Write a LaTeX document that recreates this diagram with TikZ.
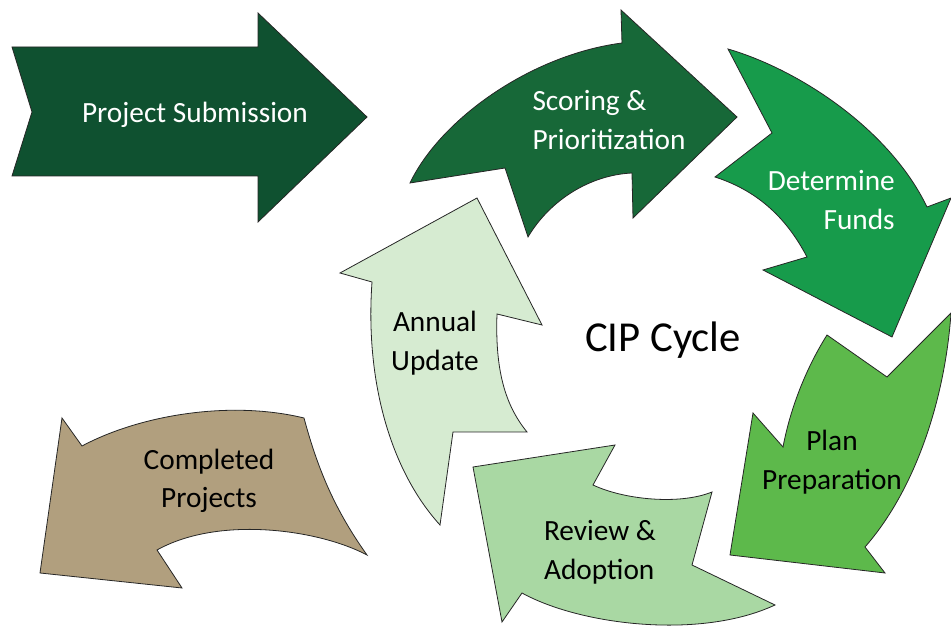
\documentclass[tikz,border=0pt]{standalone}
\usepackage{fontspec}
\setmainfont{Carlito}
\usepackage{tikz}
\usetikzlibrary{positioning}
\definecolor{submgreen}{HTML}{0F5130}
\definecolor{scoregreen}{HTML}{176838}
\definecolor{fundsgreen}{HTML}{179B4B}
\definecolor{plangreen}{HTML}{5DB94B}
\definecolor{reviewgreen}{HTML}{A9D8A3}
\definecolor{annualgreen}{HTML}{D6EBD1}
\definecolor{donetan}{HTML}{B19F7E}
\tikzstyle{block} = [draw=black!85, line width=0.6pt, line join=miter]
\tikzstyle{whitetext} = [text=white, inner sep=0pt, align=center, font=\fontsize{22}{29}\selectfont]
\tikzstyle{blacktext} = [text=black, inner sep=0pt, align=center, font=\fontsize{22}{29}\selectfont]

\begin{document}
\begin{tikzpicture}[x=0.75pt,y=-0.75pt]

    \useasboundingbox (0,0) rectangle (951,630);

    % Shapes
    \filldraw [block, fill=submgreen] (12,47) -- (258,47) -- (258,13) -- (367,117) -- (258,222) -- (258,176) -- (12,176) -- (32,112) -- cycle;
    \filldraw [block, fill=scoregreen] (410,183) .. controls (440,120) and (530,55) .. (622,43) -- (621,10) -- (737,117) -- (633,218) -- (632,173) .. controls (590,175) and (550,200) .. (528,237) -- (505,168) -- cycle;
    \filldraw [block, fill=fundsgreen] (728,49) .. controls (800,70) and (890,130) .. (927,207) -- (951,198) -- (892,337) -- (763,270) -- (807,257) .. controls (785,215) and (755,190) .. (715,177) -- (772,133) -- cycle;
    \filldraw [block, fill=plangreen] (951,313) .. controls (945,400) and (915,490) .. (865,547) -- (885,573) -- (730,555) -- (753,413) -- (783,447) .. controls (790,410) and (805,370) .. (827,335) -- (887,377) -- cycle;
    \filldraw [block, fill=reviewgreen] (775,605) -- (692,565) -- (712,492) .. controls (680,505) and (625,500) .. (593,485) -- (615,445) -- (473,467) -- (502,622) -- (522,593) .. controls (580,625) and (700,640) .. (775,605) -- cycle;
    \filldraw [block, fill=annualgreen] (440,525) .. controls (390,470) and (365,380) .. (372,282) -- (340,273) -- (477,198) -- (542,325) -- (497,314) .. controls (495,370) and (505,405) .. (527,432) -- (453,432) -- cycle;
    \filldraw [block, fill=donetan] (304,418) .. controls (318,470) and (335,510) .. (367,555) .. controls (320,530) and (220,515) .. (157,550) -- (182,588) -- (40,573) -- (62,418) -- (82,446) .. controls (140,415) and (230,400) .. (304,418) -- cycle;

    % Nodes
    \node (submission) [whitetext] at (195,115) {Project Submission};
    \node (scoring) [whitetext, align=left] at (609,120) {Scoring \&\\Prioritization};
    \node (funds) [whitetext, align=right, anchor=east] at (895,200) {Determine\\Funds};
    \node (plan) [blacktext] at (832,462) {Plan\\Preparation};
    \node (review) [blacktext, align=left] at (600,552) {Review \&\\Adoption};
    \node (annual) [blacktext] at (435,343) {Annual\\Update};
    \node (completed) [blacktext] at (209,481) {Completed\\Projects};
    \node (cycle) [blacktext, font=\fontsize{32}{38}\selectfont] at (663,340) {CIP Cycle};

\end{tikzpicture}
\end{document}
